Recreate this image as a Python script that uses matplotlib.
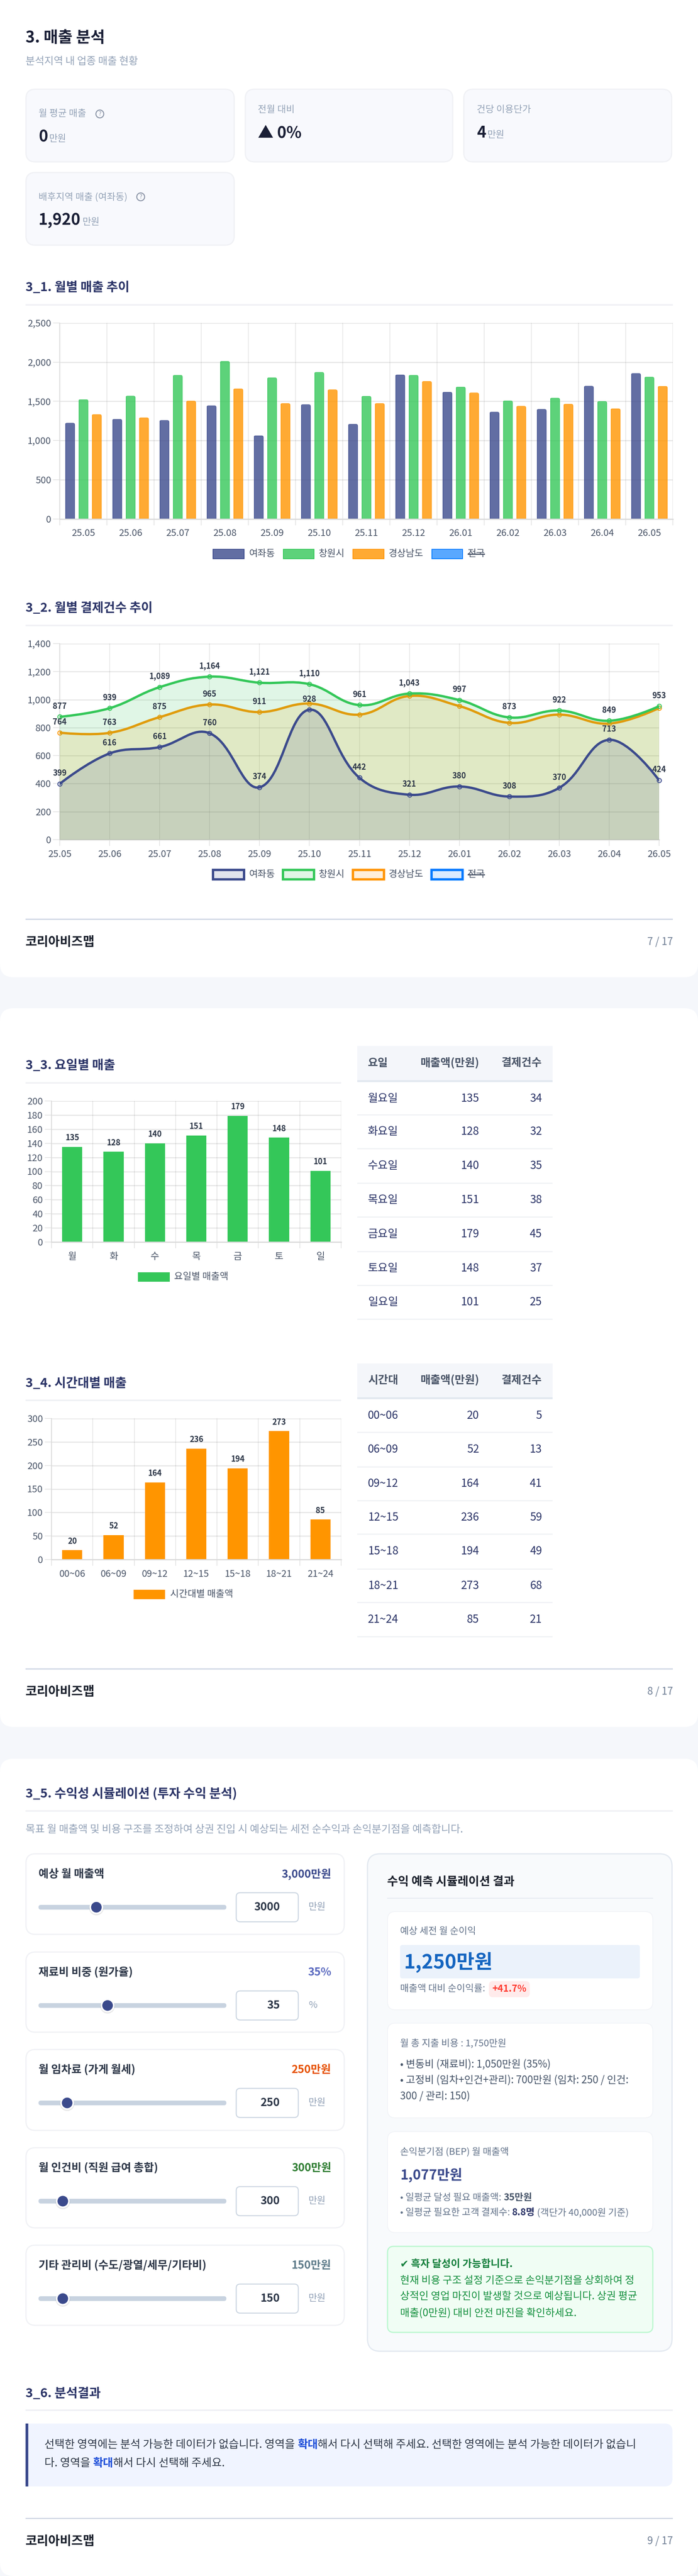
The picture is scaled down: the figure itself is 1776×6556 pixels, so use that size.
import numpy as np
import matplotlib
matplotlib.use("Agg")
import matplotlib.pyplot as plt
from matplotlib.patches import FancyBboxPatch, Rectangle, Circle, PathPatch
from matplotlib.path import Path

plt.rcParams["font.family"] = ["Noto Sans CJK KR", "DejaVu Sans"]
plt.rcParams["axes.unicode_minus"] = False

W, H = 1776, 6556

# ---- data
months = ["25.05", "25.06", "25.07", "25.08", "25.09", "25.10", "25.11",
          "25.12", "26.01", "26.02", "26.03", "26.04", "26.05"]
sales_yeojwa = [1224, 1273, 1259, 1446, 1063, 1460, 1210, 1840, 1619, 1365, 1400, 1696, 1858]
sales_changwon = [1524, 1570, 1835, 2013, 1803, 1872, 1567, 1835, 1685, 1509, 1544, 1501, 1812]
sales_gyeongnam = [1334, 1293, 1506, 1662, 1475, 1650, 1475, 1757, 1610, 1440, 1466, 1408, 1694]

count_yeojwa = [399, 616, 661, 760, 374, 928, 442, 321, 380, 308, 370, 713, 424]
count_changwon = [877, 939, 1089, 1164, 1121, 1110, 961, 1043, 997, 873, 922, 849, 953]
count_gyeongnam = [764, 763, 875, 965, 911, 972, 893, 1026, 954, 834, 893, 829, 940]
gyeongnam_labelled = 5

days_short = ["월", "화", "수", "목", "금", "토", "일"]
days_long = ["월요일", "화요일", "수요일", "목요일", "금요일", "토요일", "일요일"]
day_sales = [135, 128, 140, 151, 179, 148, 101]
day_count = [34, 32, 35, 38, 45, 37, 25]

hours = ["00~06", "06~09", "09~12", "12~15", "15~18", "18~21", "21~24"]
hour_sales = [20, 52, 164, 236, 194, 273, 85]
hour_count = [5, 13, 41, 59, 49, 68, 21]

slider_names = ["예상 월 매출액", "재료비 비중 (원가율)", "월 임차료 (가게 월세)",
                "월 인건비 (직원 급여 총합)", "기타 관리비 (수도/광열/세무/기타비)"]
slider_values = [3000, 35, 250, 300, 150]
slider_min = [100, 10, 0, 0, 0]
slider_max = [10000, 80, 2000, 3000, 1500]
slider_text = ["3,000만원", "35%", "250만원", "300만원", "150만원"]
slider_units = ["만원", "%", "만원", "만원", "만원"]

NAVY = "#3B4A8C"
GREEN = "#34C759"
ORANGE = "#FF9500"
BLUE = "#007AFF"
GRID = "#0000001A"
TICK = "#4A5568"
LABEL = "#2D3748"
TITLE = "#2B3467"
RULE = "#F0F1F5"


def pt(px):
    return px * 0.72


fig = plt.figure(figsize=(W / 100, H / 100), dpi=100)
bg = fig.add_axes([0, 0, 1, 1], zorder=0)
bg.set_xlim(0, W)
bg.set_ylim(H, 0)
bg.axis("off")
fig.patch.set_facecolor("#F5F7FB")
renderer = fig.canvas.get_renderer()


def T(x, y, s, size, color=LABEL, weight="normal", ha="left", zorder=5):
    return bg.text(x, y, s, fontsize=pt(size), color=color, fontweight=weight,
                   ha=ha, va="center", zorder=zorder)


def text_w(s, size, weight):
    a = bg.text(0, 0, s + "|", fontsize=pt(size), fontweight=weight)
    b = bg.text(0, 0, "|", fontsize=pt(size), fontweight=weight)
    w = a.get_window_extent(renderer).width - b.get_window_extent(renderer).width
    a.remove()
    b.remove()
    return w


def run(x, y, parts, size):
    for s, weight, color in parts:
        T(x, y, s, size, color, weight)
        x += text_w(s, size, weight)
    return x


def box(x0, y0, x1, y1, r, face, edge="none", lw=0, zorder=1):
    p = FancyBboxPatch((x0, y0), x1 - x0, y1 - y0,
                       boxstyle=f"round,pad=0,rounding_size={r}",
                       fc=face, ec=edge, lw=pt(lw), zorder=zorder)
    bg.add_patch(p)
    return p


def rect(x0, y0, x1, y1, color, zorder=2, **kw):
    bg.add_patch(Rectangle((x0, y0), x1 - x0, y1 - y0, fc=color, ec="none", zorder=zorder, **kw))


def section(y, rule_y, s, x1=1712):
    T(65, y, s, 32, TITLE, "bold")
    rect(65, rule_y - 2, x1, rule_y + 2, RULE)


def footer(rule_y, text_y, page):
    rect(65, rule_y - 1.5, 1712, rule_y + 1.5, "#CFD6E4")
    T(65, text_y, "코리아비즈맵", 32, "#1A202C", "bold")
    T(1712, text_y, page, 26, "#718096", ha="right")


def chart_axes(x0, y0, x1, y1):
    ax = fig.add_axes([x0 / W, 1 - y1 / H, (x1 - x0) / W, (y1 - y0) / H], zorder=2)
    ax.patch.set_alpha(0)
    for side in ["top", "right"]:
        ax.spines[side].set_visible(False)
    ax.spines["left"].set_color("#D9D9D9")
    ax.spines["left"].set_linewidth(pt(2))
    ax.spines["bottom"].set_color("#DADADA")
    ax.spines["bottom"].set_linewidth(pt(3))
    ax.grid(axis="y", color="black", alpha=0.09, lw=pt(3))
    ax.set_axisbelow(True)
    ax.tick_params(axis="y", length=pt(17), width=pt(2), color=GRID, labelsize=pt(24),
                   labelcolor=TICK, pad=pt(5))
    return ax


def category_x(ax, labels):
    n = len(labels)
    ax.set_xlim(-0.5, n - 0.5)
    ax.set_xticks(np.arange(n))
    ax.set_xticklabels(labels)
    ax.set_xticks(np.arange(n + 1) - 0.5, minor=True)
    ax.tick_params(axis="x", which="major", length=0, labelsize=pt(24), labelcolor=TICK, pad=pt(26))
    ax.tick_params(axis="x", which="minor", length=pt(16), width=pt(2), color=GRID)
    ax.grid(axis="x", which="minor", color="black", alpha=0.09, lw=pt(2))


def legend_item(x0, x1, y, h, face, edge, lw, tx, s, strike=False):
    bg.add_patch(Rectangle((x0 + lw / 2, y - h / 2 + lw / 2), x1 - x0 - lw, h - lw,
                           fc=face, ec=edge, lw=pt(lw), zorder=3))
    t = T(tx, y, s, 24, TICK)
    if strike:
        w = text_w(s, 24, "normal")
        rect(tx, y - 1, tx + w, y + 2, TICK, zorder=6)
    return t


def tint(hex_color, a):
    return matplotlib.colors.to_rgba(hex_color, a)


# ---- page cards
box(0, -60, W, 2487, 34, "white", zorder=0.5)
box(0, 2566, W, 4395, 34, "white", zorder=0.5)
box(0, 4476, W, 6556, 34, "white", zorder=0.5)

# ---- header + stat cards
T(65, 96, "3. 매출 분석", 40, "#1A1F36", "bold")
T(65, 156, "분석지역 내 업종 매출 현황", 26, "#94A3B8")

stat_boxes = [(65, 226, 597, 413), (623, 226, 1153, 413), (1179, 226, 1710, 413), (65, 438, 597, 625)]
for x0, y0, x1, y1 in stat_boxes:
    box(x0 + 1, y0 + 1, x1 - 1, y1 - 1, 24, "#F8F9FD", "#F0F1F5", 3)

T(98, 290, "월 평균 매출", 24, "#94A3B8")
bg.add_patch(Circle((254, 290), 10, fc="none", ec="#8A94A6", lw=pt(2.5), zorder=5))
T(254, 290, "?", 15, "#8A94A6", ha="center")
T(98, 349, "0", 40, "#1A1F36", "bold")
T(125, 354, "만원", 24, "#94A3B8")
T(656, 279, "전월 대비", 24, "#94A3B8")
T(656, 339, "▲ 0%", 40, "#1A1F36", "bold")
T(1213, 279, "건당 이용단가", 24, "#94A3B8")
T(1213, 339, "4", 40, "#1A1F36", "bold")
T(1240, 344, "만원", 24, "#94A3B8")
T(98, 501, "배후지역 매출 (여좌동)", 24, "#94A3B8")
bg.add_patch(Circle((358, 501), 10, fc="none", ec="#8A94A6", lw=pt(2.5), zorder=5))
T(358, 501, "?", 15, "#8A94A6", ha="center")
T(98, 561, "1,920", 40, "#1A1F36", "bold")
T(210, 566, "만원", 24, "#94A3B8")

# ---- 3_1 monthly sales
section(732, 776, "3_1. 월별 매출 추이")
ax = chart_axes(152, 822, 1712, 1320.5)
category_x(ax, months)
ax.set_ylim(0, 2500)
ax.set_yticks(range(0, 2501, 500))
ax.set_yticklabels([f"{v:,}" for v in range(0, 2501, 500)])
x = np.arange(len(months))
px_x = (1712 - 152) / len(months)
px_y = (1320.5 - 822) / 2500
bw = 23 / px_x
step = 34 / px_x
for off, vals, col in [(-step, sales_yeojwa, NAVY), (0, sales_changwon, GREEN), (step, sales_gyeongnam, ORANGE)]:
    bars = ax.bar(x + off, vals, bw, color=tint(col, 0.8), edgecolor=col, linewidth=pt(1.5))
    for b in bars:
        # round the top corners only, the bottom stays square
        rx, ry = 5 / px_x, 5 / px_y
        x0, x1, top = b.get_x() - 0.01, b.get_x() + b.get_width() + 0.01, b.get_height()
        verts = [(x0, 0), (x0, top - ry), (x0, top), (x0 + rx, top), (x1 - rx, top),
                 (x1, top), (x1, top - ry), (x1, 0), (x0, 0)]
        codes = [Path.MOVETO, Path.LINETO, Path.CURVE3, Path.CURVE3, Path.LINETO,
                 Path.CURVE3, Path.CURVE3, Path.LINETO, Path.CLOSEPOLY]
        b.set_clip_path(Path(verts, codes), ax.transData)

legend_item(541, 622, 1410, 26, tint(NAVY, 0.8), NAVY, 2, 633, "여좌동")
legend_item(720, 800, 1410, 26, tint(GREEN, 0.8), GREEN, 2, 811, "창원시")
legend_item(897, 978, 1410, 26, tint(ORANGE, 0.8), ORANGE, 2, 989, "경상남도")
legend_item(1098, 1178, 1410, 26, tint(BLUE, 0.65), BLUE, 2, 1190, "전국", strike=True)

# ---- 3_2 monthly payment count
section(1548, 1592, "3_2. 월별 결제건수 추이")
ax = chart_axes(152, 1638, 1677, 2137)
ax.set_xlim(0, 12)
ax.set_ylim(0, 1400)
ax.set_yticks(range(0, 1401, 200))
ax.set_yticklabels([f"{v:,}" for v in range(0, 1401, 200)])
ax.set_xticks(np.arange(13))
ax.set_xticklabels(months)
ax.tick_params(axis="x", length=pt(16), width=pt(2), color=GRID, labelsize=pt(24), labelcolor=TICK, pad=pt(10))
ax.grid(axis="x", color="black", alpha=0.09, lw=pt(2))
sx = (1677 - 152) / 12
sy = (2137 - 1638) / 1400


def spline_path(vals, tension=0.4):
    # bezier control points the way chart.js builds them, measured in pixels
    n = len(vals)
    px = np.arange(n) * sx
    py = np.array(vals) * sy
    before, after = [], []
    for i in range(n):
        if i == 0 or i == n - 1:
            before.append((px[i], py[i]))
            after.append((px[i], py[i]))
            continue
        d01 = np.hypot(px[i] - px[i - 1], py[i] - py[i - 1])
        d12 = np.hypot(px[i + 1] - px[i], py[i + 1] - py[i])
        s01 = d01 / (d01 + d12)
        s12 = d12 / (d01 + d12)
        dx, dy = px[i + 1] - px[i - 1], py[i + 1] - py[i - 1]
        before.append((px[i] - tension * s01 * dx, py[i] - tension * s01 * dy))
        after.append((px[i] + tension * s12 * dx, py[i] + tension * s12 * dy))
    verts = [(0, vals[0])]
    codes = [Path.MOVETO]
    for i in range(1, n):
        verts += [(after[i - 1][0] / sx, after[i - 1][1] / sy),
                  (before[i][0] / sx, before[i][1] / sy), (i, vals[i])]
        codes += [Path.CURVE4] * 3
    return verts, codes


order = [(count_gyeongnam, ORANGE, 3), (count_changwon, GREEN, 4), (count_yeojwa, NAVY, 5)]
for vals, col, z in order:
    verts, codes = spline_path(vals)
    fill = Path(verts + [(12, 0), (0, 0), (0, vals[0])], codes + [Path.LINETO] * 3)
    ax.add_patch(PathPatch(fill, fc=tint(col, 0.15), ec="none", zorder=z))
    ax.add_patch(PathPatch(Path(verts, codes), fc="none", ec=col, lw=pt(6), zorder=z, capstyle="round"))
    ax.plot(range(13), vals, ls="none", marker="o", ms=pt(11), mfc=tint(col, 0.15), mec=col,
            mew=pt(2), zorder=z, clip_on=False)

for i, v in enumerate(count_changwon):
    ax.annotate(f"{v:,}", (i, v), xytext=(0, pt(27)), textcoords="offset points", ha="center", va="center",
                fontsize=pt(20), color=LABEL, fontweight="bold", zorder=8, annotation_clip=False)
for i, v in enumerate(count_yeojwa):
    ax.annotate(f"{v:,}", (i, v), xytext=(0, pt(27)), textcoords="offset points", ha="center", va="center",
                fontsize=pt(20), color=LABEL, fontweight="bold", zorder=8, annotation_clip=False)
for i, v in enumerate(count_gyeongnam[:gyeongnam_labelled]):
    ax.annotate(f"{v:,}", (i, v), xytext=(0, pt(27)), textcoords="offset points", ha="center", va="center",
                fontsize=pt(20), color=LABEL, fontweight="bold", zorder=8, annotation_clip=False)

legend_item(539, 624, 2226, 30, tint(NAVY, 0.15), NAVY, 6, 633, "여좌동")
legend_item(717, 802, 2226, 30, tint(GREEN, 0.15), GREEN, 6, 811, "창원시")
legend_item(895, 980, 2226, 30, tint(ORANGE, 0.15), ORANGE, 6, 989, "경상남도")
legend_item(1095, 1180, 2226, 30, tint(BLUE, 0.15), BLUE, 6, 1190, "전국", strike=True)
footer(2339, 2398, "7 / 17")


# ---- 3_3 / 3_4 bar + table
def bar_chart(y0, y1, labels, vals, col, ymax, ystep, legend_y, legend_x0, legend_x1, legend_h, legend_tx, legend_s):
    ax = chart_axes(131, y0, 868, y1)
    category_x(ax, labels)
    ax.set_ylim(0, ymax)
    ax.set_yticks(range(0, ymax + 1, ystep))
    ax.bar(range(len(vals)), vals, 0.486, color=col)
    for i, v in enumerate(vals):
        ax.annotate(str(v), (i, v), xytext=(0, pt(23)), textcoords="offset points", ha="center", va="center",
                    fontsize=pt(20), color=LABEL, fontweight="bold", annotation_clip=False)
    legend_item(legend_x0, legend_x1, legend_y, legend_h, col, col, 0.01, legend_tx, legend_s)


def table(header_y0, header_y1, rows_y, head, col0, col1, col2):
    rect(909, header_y0, 1406, header_y1, "#F4F6FA")
    rect(909, header_y1, 1406, header_y1 + 5, "#E2E8F0")
    hy = (header_y0 + header_y1) / 2
    T(936, hy, head, 28, "#4A5568", "bold")
    T(1219, hy, "매출액(만원)", 28, "#4A5568", "bold", ha="right")
    T(1379, hy, "결제건수", 28, "#4A5568", "bold", ha="right")
    top = header_y1 + 5
    for i, y in enumerate(rows_y):
        rect(909, y - 1.5, 1406, y + 1.5, "#F0F2F5")
        cy = (top + y) / 2
        T(936, cy, col0[i], 28, TITLE)
        T(1219, cy, str(col1[i]), 28, TITLE, ha="right")
        T(1379, cy, str(col2[i]), 28, TITLE, ha="right")
        top = y


section(2712, 2756, "3_3. 요일별 매출", x1=868)
bar_chart(2802, 3161, days_short, day_sales, GREEN, 200, 20, 3250, 351, 432, 24, 443, "요일별 매출액")
table(2662, 2749, [2837, 2923, 3011, 3097, 3185, 3271, 3357], "요일", days_long, day_sales, day_count)

section(3521, 3564, "3_4. 시간대별 매출", x1=868)
bar_chart(3610, 3969, hours, hour_sales, ORANGE, 300, 50, 4058, 340, 420, 24, 433, "시간대별 매출액")
table(3470, 3556, [3645, 3733, 3819, 3904, 3993, 4078, 4165], "시간대", hours, hour_sales, hour_count)
footer(4247, 4306, "8 / 17")

# ---- 3_5 simulation
section(4565, 4609, "3_5. 수익성 시뮬레이션 (투자 수익 분석)")
T(65, 4656, "목표 월 매출액 및 비용 구조를 조정하여 상권 진입 시 예상되는 세전 순수익과 손익분기점을 예측합니다.", 26.5, "#94A3B8")

slider_tops = [4717, 4967, 5215, 5465, 5713]
slider_bottoms = [4924, 5173, 5423, 5671, 5919]
value_colors = [NAVY, "#5C6BC0", "#E65100", "#2E7D32", "#607D8B"]
track_x0, track_x1 = 98, 576
thumb_r = 17.5
for i, top in enumerate(slider_tops):
    box(66, top + 1, 876, slider_bottoms[i] - 1, 24, "white", "#F0F1F5", 3)
    T(98, top + 53, slider_names[i], 28, "#2D3748", "bold")
    T(843, top + 53, slider_text[i], 28, value_colors[i], "bold", ha="right")
    sy_ = top + 137
    box(track_x0, sy_ - 6, track_x1, sy_ + 6, 6, "#C8D3E0", zorder=2)
    frac = (slider_values[i] - slider_min[i]) / (slider_max[i] - slider_min[i])
    cx = track_x0 + thumb_r + frac * (track_x1 - track_x0 - 2 * thumb_r)
    bg.add_patch(Circle((cx, sy_ + 2), thumb_r + 1, fc="#00000018", ec="none", zorder=3))
    bg.add_patch(Circle((cx, sy_), thumb_r - 2, fc=NAVY, ec="white", lw=pt(4), zorder=4))
    box(601, top + 100, 759, top + 174, 10, "white", "#CBD5E1", 2.5, zorder=2)
    T(712, top + 137, str(slider_values[i]), 28, "#2D3748", "bold", ha="right")
    T(785, top + 137, slider_units[i], 24, "#94A3B8")

# result panel
box(935, 4718, 1710, 5984, 32, "#F8FAFC", "#E2E8F0", 3)
T(985, 4789, "수익 예측 시뮬레이션 결과", 30, "#1A202C", "bold")
rect(985, 4830, 1662, 4832, "#E2E8F0")

for y0, y1 in [(4865, 5115), (5149, 5390), (5425, 5682)]:
    box(986, y0, 1661, y1, 20, "white", "#F1F3F7", 2, zorder=2)

T(1018, 4916, "예상 세전 월 순이익", 24, "#64748B")
box(1018, 4950, 1628, 5035, 6, "#EBF2FB", zorder=3)
T(1028, 4994, "1,250만원", 50, "#1565C0", "bold")
T(1018, 5062, "매출액 대비 순이익률:", 24, "#64748B")
box(1244, 5042, 1348, 5083, 10, "#FFEBEB", zorder=3)
T(1296, 5062, "+41.7%", 24, "#FF3B30", "bold", ha="center")

T(1018, 5200, "월 총 지출 비용 : 1,750만원", 24, "#64748B")
T(1018, 5254, "• 변동비 (재료비): 1,050만원 (35%)", 26, "#475569")
T(1018, 5294, "• 고정비 (임차+인건+관리): 700만원 (임차: 250 / 인건:", 26, "#475569")
T(1018, 5335, "300 / 관리: 150)", 26, "#475569")

T(1018, 5477, "손익분기점 (BEP) 월 매출액", 24, "#64748B")
T(1018, 5536, "1,077만원", 35, NAVY, "bold")
run(1018, 5593, [("• 일평균 달성 필요 매출액: ", "normal", "#64748B"), ("35만원", "bold", "#475569")], 24)
run(1018, 5631, [("• 일평균 필요한 고객 결제수: ", "normal", "#64748B"), ("8.8명", "bold", TITLE),
                 (" (객단가 40,000원 기준)", "normal", "#64748B")], 24)

box(986, 5717, 1661, 5936, 16, "#F0FDF4", "#BBF7D0", 3, zorder=2)
T(1018, 5762, "✔ 흑자 달성이 가능합니다.", 26, "#15803D", "bold")
T(1018, 5804, "현재 비용 구조 설정 기준으로 손익분기점을 상회하여 정", 26.3, "#16913F")
T(1018, 5845, "상적인 영업 마진이 발생할 것으로 예상됩니다. 상권 평균", 26.3, "#16913F")
T(1018, 5887, "매출(0만원) 대비 안전 마진을 확인하세요.", 26.3, "#16913F")

# ---- 3_6
section(6092, 6134, "3_6. 분석결과")
box(65, 6168, 1711, 6328, 20, "#F0F4FF", zorder=1)
rect(65, 6168, 90, 6328, "#F0F4FF")
rect(65, 6168, 72, 6328, NAVY)
run(113, 6222, [("선택한 영역에는 분석 가능한 데이터가 없습니다. 영역을 ", "normal", LABEL),
                ("확대", "bold", "#1D4ED8"),
                ("해서 다시 선택해 주세요. 선택한 영역에는 분석 가능한 데이터가 없습니", "normal", LABEL)], 28)
run(113, 6269, [("다. 영역을 ", "normal", LABEL), ("확대", "bold", "#1D4ED8"),
                ("해서 다시 선택해 주세요.", "normal", LABEL)], 28)
footer(6409, 6468, "9 / 17")

fig.savefig("out.png", dpi=100, facecolor=fig.get_facecolor())
